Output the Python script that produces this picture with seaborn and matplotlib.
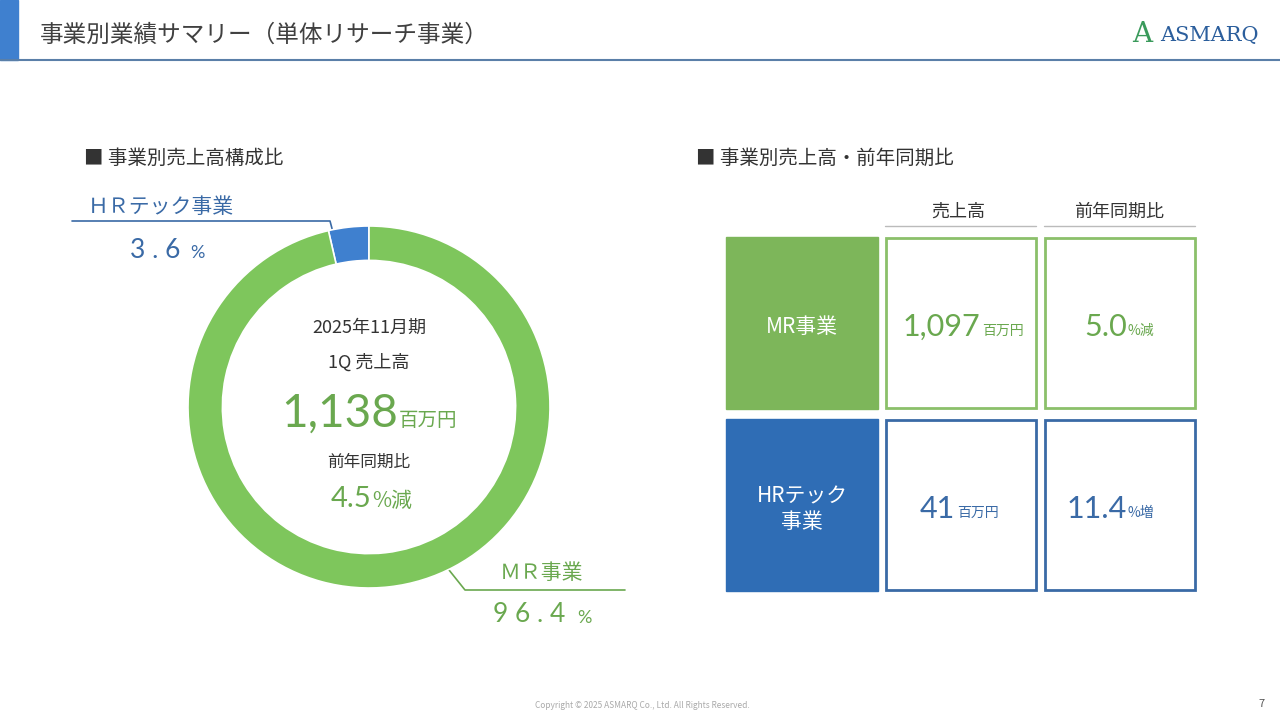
import matplotlib
matplotlib.use("Agg")
import matplotlib.pyplot as plt
import seaborn as sns
from matplotlib.patches import Rectangle
from matplotlib.lines import Line2D

sns.set_theme(style="white", font="Noto Sans CJK JP")
plt.rcParams["font.family"] = "Noto Sans CJK JP"

segments = ["HRテック事業", "MR事業"]
shares = [3.6, 96.4]
share_labels = ["3.6", "96.4"]
center_lines = ["2025年11月期", "1Q 売上高"]
total_sales = "1,138"
total_yoy = "4.5"
rows = ["MR事業", "HRテック\n事業"]
sales = ["1,097", "41"]
yoy = ["5.0", "11.4"]
yoy_dir = ["%減", "%増"]

GREEN = "#7ec65c"
BLUE = "#3f80cf"
TGREEN = "#6aa84f"
TBLUE = "#3a6aa6"
NUM = dict(family="Lato", weight="normal")

fig = plt.figure(figsize=(12.8, 7.2), dpi=100)
bg = fig.add_axes([0, 0, 1, 1])
bg.set_xlim(0, 1280); bg.set_ylim(720, 0); bg.axis("off")

# header
bg.add_patch(Rectangle((0, 0), 18, 60, color="#3f80cf"))
bg.add_line(Line2D([0, 1280], [59.5, 59.5], color="#5a7fa8", lw=1.5))
bg.text(40, 35, "事業別業績サマリー（単体リサーチ事業）", fontsize=17, color="#404040", va="center")
bg.text(1132, 34, "A", fontsize=20, color="#3a9a5b", va="center", family="DejaVu Serif")
bg.text(1160, 35, "ASMARQ", fontsize=15, color="#2b5e9c", va="center", family="DejaVu Serif")
bg.text(642, 706, "Copyright © 2025 ASMARQ Co., Ltd. All Rights Reserved.", fontsize=6, color="#aaaaaa", ha="center", va="center")
bg.text(1262, 704, "7", fontsize=8, color="#555555", ha="center", va="center")

# section titles
bg.text(84, 158, "■ 事業別売上高構成比", fontsize=14, color="#333333", va="center")
bg.text(696, 158, "■ 事業別売上高・前年同期比", fontsize=14, color="#333333", va="center")

# donut
ax = fig.add_axes([188/1280, (720-588)/720, 362/1280, 362/720])
ax.pie(shares, colors=[BLUE, GREEN], startangle=90, counterclock=True,
       wedgeprops=dict(width=0.19, edgecolor="white", linewidth=1.2))
ax.set_xlim(-1, 1); ax.set_ylim(-1, 1)
ax.set_aspect("equal")
sns.despine(ax=ax, left=True, bottom=True)

bg.text(369, 328, center_lines[0], fontsize=13, color="#333333", ha="center", va="center")
bg.text(369, 363, center_lines[1], fontsize=13, color="#333333", ha="center", va="center")
bg.text(398, 414, total_sales, fontsize=33, color=TGREEN, ha="right", va="center", **NUM)
bg.text(399, 421, "百万円", fontsize=14, color=TGREEN, ha="left", va="center")
bg.text(369, 462, "前年同期比", fontsize=12, color="#333333", ha="center", va="center")
bg.text(371, 499, total_yoy, fontsize=21, color=TGREEN, ha="right", va="center", **NUM)
bg.text(372, 501, "%減", fontsize=15, color=TGREEN, ha="left", va="center")

# callouts
bg.add_line(Line2D([72, 330, 334], [221, 221, 236], color=TBLUE, lw=1.2))
bg.text(88, 207, "ＨＲテック事業", fontsize=15, color=TBLUE, va="center")
bg.text(130, 251, " ".join(share_labels[0]), fontsize=19, color=TBLUE, va="center", **NUM)
bg.text(190, 253, "%", fontsize=13, color=TBLUE, va="center", **NUM)
bg.add_line(Line2D([445, 465, 625], [565, 590, 590], color=TGREEN, lw=1.2))
bg.text(500, 573, "ＭＲ事業", fontsize=15, color=TGREEN, va="center")
bg.text(493, 615, " ".join(share_labels[1]), fontsize=19, color=TGREEN, va="center", **NUM)
bg.text(577, 618, "%", fontsize=13, color=TGREEN, va="center", **NUM)

# table
bg.text(958, 212, "売上高", fontsize=13, color="#333333", ha="center", va="center")
bg.text(1119, 212, "前年同期比", fontsize=13, color="#333333", ha="center", va="center")
bg.add_line(Line2D([885, 1036], [226, 226], color="#bbbbbb", lw=1))
bg.add_line(Line2D([1044, 1195], [226, 226], color="#bbbbbb", lw=1))

fills = ["#7db65a", "#2f6db5"]
edges = ["#8bc06a", "#3a6aa6"]
tcols = [TGREEN, TBLUE]
ys = [237, 419]
sales_x = [980, 955]
for i in range(2):
    y = ys[i]
    bg.add_patch(Rectangle((726, y), 152, 172, color=fills[i]))
    bg.text(802, y + 90, rows[i], fontsize=15, color="white", ha="center", va="center", linespacing=1.2)
    bg.add_patch(Rectangle((886, y + 1), 150, 170, fill=False, edgecolor=edges[i], lw=2))
    bg.add_patch(Rectangle((1045, y + 1), 150, 170, fill=False, edgecolor=edges[i], lw=2))
    bg.text(sales_x[i], y + 90, sales[i], fontsize=22, color=tcols[i], ha="right", va="center", **NUM)
    bg.text(sales_x[i] + 2, y + 94, "百万円", fontsize=10, color=tcols[i], ha="left", va="center")
    bg.text(1127, y + 90, yoy[i], fontsize=22, color=tcols[i], ha="right", va="center", **NUM)
    bg.text(1128, y + 94, yoy_dir[i], fontsize=10, color=tcols[i], ha="left", va="center")

fig.savefig("out.png", dpi=100)
